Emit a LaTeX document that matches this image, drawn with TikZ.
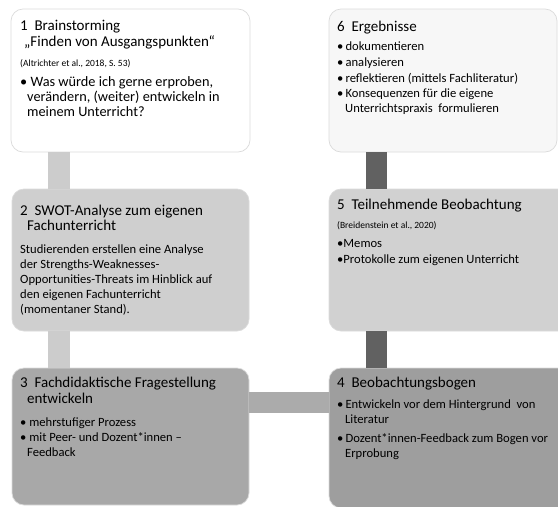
\documentclass[tikz,border=0pt]{standalone}
\usepackage{fontspec}
\setmainfont{Carlito}
\begin{document}
\begin{tikzpicture}[x=1pt,y=-1pt,
  box/.style={rectangle, rounded corners=12pt, draw=black!14, line width=0.7pt, inner sep=0pt, outer sep=0pt},
  tl/.style={anchor=base west, inner sep=0pt, font=\fontsize{15}{16}\selectfont},
  bd/.style={anchor=base west, inner sep=0pt, font=\fontsize{12.6}{14}\selectfont},
  bdl/.style={anchor=base west, inner sep=0pt, font=\fontsize{14.3}{16}\selectfont},
  ct/.style={anchor=base west, inner sep=0pt, font=\fontsize{9.5}{10}\selectfont},
  conL/.style={draw=none, fill=black!20},
  conH/.style={draw=none, fill=black!33},
  conR/.style={draw=none, fill=black!62}]
\useasboundingbox (0,0) rectangle (558,507);
\fill[white] (0,0) rectangle (558,507);
% boxes
\node[box, fill=white, minimum width=239pt, minimum height=143pt] (b1) at (130.5,80.5) {};
\node[box, fill=black!19, minimum width=237pt, minimum height=142pt] (b2) at (130.5,260) {};
\node[box, fill=black!34, minimum width=237pt, minimum height=137pt] (b3) at (130.5,436.5) {};
\node[box, fill=black!3, minimum width=228pt, minimum height=143pt] (b6) at (443,80.5) {};
\node[box, fill=black!18, minimum width=241pt, minimum height=142pt] (b5) at (449.5,260) {};
\node[box, fill=black!38, minimum width=241pt, minimum height=140pt] (b4) at (449.5,438) {};
% connector guide coordinates
\coordinate (cl) at (59,0);
\coordinate (cr) at (376.5,0);
\coordinate (ch) at (0,402.5);
% connectors
\fill[conL] ([xshift=-11pt]b1.south -| cl) rectangle ([xshift=11pt]b2.north -| cl);
\fill[conL] ([xshift=-11pt]b2.south -| cl) rectangle ([xshift=11pt]b3.north -| cl);
\fill[conH] ([yshift=10.5pt]b3.east |- ch) rectangle ([yshift=-10.5pt]b4.west |- ch);
\fill[conR] ([xshift=-10.5pt]b6.south -| cr) rectangle ([xshift=10.5pt]b5.north -| cr);
\fill[conR] ([xshift=-10.5pt]b5.south -| cr) rectangle ([xshift=10.5pt]b4.north -| cr);
% box 1 text
\node[tl] (t1a) at (20,30) {1\ \ Brainstorming};
\node[tl] (t1b) at (24,46) {\char"201E Finden von Ausgangspunkten\char"201C};
\node[ct] (t1c) at (20,66) {(Altrichter et al., 2018, S. 53)};
\node[bdl] (t1d) at (20,86) {\textbullet\ Was würde ich gerne erproben,};
\node[bdl] (t1e) at (27,101) {verändern, (weiter) entwickeln in};
\node[bdl] (t1f) at (27,116) {meinem Unterricht?};
% box 2 text
\node[tl] (t2a) at (20,215) {2\ \ SWOT-Analyse zum eigenen};
\node[tl] (t2b) at (27,230) {Fachunterricht};
\node[bd] (t2c) at (20,253) {Studierenden erstellen eine Analyse};
\node[bd] (t2d) at (20,268) {der Strengths-Weaknesses-};
\node[bd] (t2e) at (20,283) {Opportunities-Threats im Hinblick auf};
\node[bd] (t2f) at (20,298) {den eigenen Fachunterricht};
\node[bd] (t2g) at (20,313) {(momentaner Stand).};
% box 3 text
\node[tl] (t3a) at (20,387) {3\ \ Fachdidaktische Fragestellung};
\node[tl] (t3b) at (27,403) {entwickeln};
\node[bd] (t3c) at (20,426) {\textbullet\ mehrstufiger Prozess};
\node[bd] (t3d) at (20,441) {\textbullet\ mit Peer- und Dozent*innen –};
\node[bd] (t3e) at (27,456) {Feedback};
% box 6 text
\node[tl] (t6a) at (337,31) {6\ \ Ergebnisse};
\node[bd] (t6b) at (337,50) {\textbullet\,dokumentieren};
\node[bd] (t6c) at (337,66) {\textbullet\,analysieren};
\node[bd] (t6d) at (337,82) {\textbullet\,reflektieren (mittels Fachliteratur)};
\node[bd] (t6e) at (337,97) {\textbullet\,Konsequenzen für die eigene};
\node[bd] (t6f) at (345,112) {Unterrichtspraxis\ \ formulieren};
% box 5 text
\node[tl] (t5a) at (337,209) {5\ \ Teilnehmende Beobachtung};
\node[ct] (t5b) at (337,228) {(Breidenstein et al., 2020)};
\node[bd] (t5c) at (337,247) {\textbullet Memos};
\node[bd] (t5d) at (337,263) {\textbullet Protokolle zum eigenen Unterricht};
% box 4 text
\node[tl] (t4a) at (337,387) {4\ \ Beobachtungsbogen};
\node[bd] (t4b) at (337,408) {\textbullet\,Entwickeln vor dem Hintergrund\ \ von};
\node[bd] (t4c) at (345,423) {Literatur};
\node[bd] (t4d) at (337,442) {\textbullet\,Dozent*innen-Feedback zum Bogen vor};
\node[bd] (t4e) at (345,457) {Erprobung};
\end{tikzpicture}
\end{document}
